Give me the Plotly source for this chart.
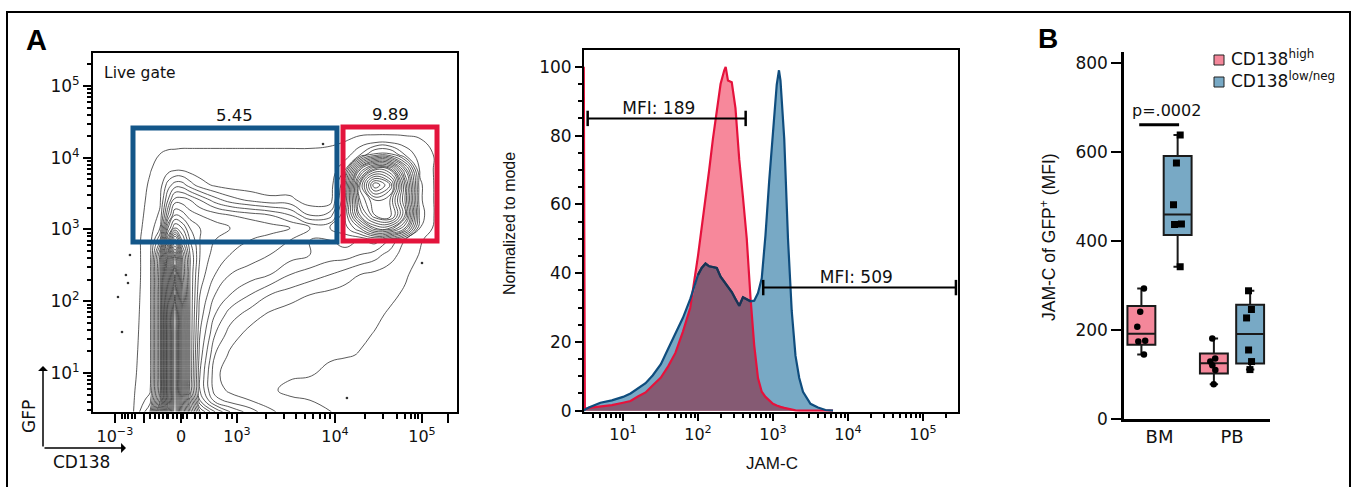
import math
import plotly.graph_objects as go

W, H = 1353, 487
F = "DejaVu Sans, Liberation Sans, sans-serif"
FN = "Liberation Sans Narrow, Liberation Sans, Arial, sans-serif"
FB = "Liberation Sans, Arial, Helvetica, sans-serif"
INK = "#111111"


def px_x(p):
    return p / W


def px_y(p):
    return 1 - p / H


# ---------------- Panel A, left: GFP vs CD138 contour (display units) ----------------
# CD138 display position (biexponential axis: 10^3 -> 3, 10^4 -> 4) and GFP as log10
cd138_cols = [1.602, 1.806, 1.959, 2.112, 2.214, 2.296, 2.367, 2.439, 2.520, 2.622, 2.776, 2.929,
              3.133, 3.337, 3.541, 3.745, 3.949, 4.102, 4.255, 4.408, 4.561, 4.714, 4.867, 5.020, 5.173]
gfp_rows = [0.46, 0.62, 0.76, 0.97, 1.25, 1.53, 1.81, 2.09, 2.37, 2.65, 2.85, 3.02, 3.20, 3.41,
            3.62, 3.83, 4.04, 4.25, 4.46, 4.74]
density_levels = [
    [0, 0, 1.1, 4, 14, 22, 28, 22, 16, 10, 7, 5, 3.5, 2.2, 1.5, 1.2, 1.05, 0.5, 0, 0, 0, 0, 0, 0, 0],
    [0, 0, 1.05, 2.5, 10, 20, 28, 21, 14, 7, 3.5, 2.5, 2, 1.5, 1.2, 1.0, 0.6, 0.3, 0, 0, 0, 0, 0, 0, 0],
    [0, 0.2, 1.0, 1.8, 9, 20, 28, 20, 12, 6, 2.5, 1.8, 1.5, 1.2, 0.7, 0.6, 0.5, 0.2, 0, 0, 0, 0, 0, 0, 0],
    [0, 0.3, 0.95, 1.5, 9, 20, 28, 20, 12, 6, 2.3, 1.4, 1.3, 1.25, 1.15, 1.05, 0.7, 0.4, 0.1, 0, 0, 0, 0, 0, 0],
    [0, 0.3, 0.9, 1.5, 9, 20, 28, 20, 12, 6.5, 3, 1.8, 1.4, 1.3, 1.25, 1.2, 1.15, 1.1, 0.95, 0.6, 0.3, 0, 0, 0, 0],
    [0, 0.3, 0.85, 1.5, 9, 20, 28, 20, 12, 7, 4, 2.5, 1.6, 1.3, 1.25, 1.25, 1.2, 1.2, 1.15, 0.95, 0.6, 0.3, 0, 0, 0],
    [0, 0.3, 0.8, 1.5, 9, 20, 28, 20, 12, 7.5, 5, 3.5, 2.5, 1.8, 1.4, 1.3, 1.3, 1.25, 1.2, 1.15, 0.9, 0.5, 0.1, 0, 0],
    [0, 0.3, 0.75, 1.5, 9, 19, 27, 19, 12, 8, 6, 5, 4, 3, 2.5, 2, 1.7, 1.5, 1.4, 1.3, 1.15, 0.9, 0.5, 0.1, 0],
    [0, 0.3, 0.7, 1.5, 9, 18, 26, 18, 12, 8.5, 7, 6, 5.5, 5, 4, 3.5, 3, 2.5, 2, 1.7, 1.4, 1.1, 0.7, 0.3, 0],
    [0, 0.3, 0.7, 1.5, 8, 17, 24, 17, 12, 9, 7.5, 7, 6.5, 6, 5.5, 5, 4.5, 4.5, 4, 3.5, 2.5, 1.5, 0.95, 0.5, 0],
    [0, 0.3, 0.7, 1.5, 5, 13, 19, 14, 11, 9, 8, 7.5, 7, 6.5, 6, 5, 5, 5.5, 5, 5.5, 4, 2, 1.1, 0.6, 0.1],
    [0, 0.3, 0.65, 1.4, 3, 10, 13, 12, 10, 9, 8.5, 8, 8, 7.5, 7, 6, 6, 6.5, 9, 13, 13, 9, 2, 0.8, 0.2],
    [0, 0.3, 0.6, 1.3, 2.2, 7, 10, 9.5, 8.5, 8, 7.5, 7, 6.5, 6, 5, 3, 3.5, 7, 14, 18, 19, 13, 2.5, 0.9, 0.2],
    [0, 0.3, 0.55, 1.2, 1.8, 5, 7.5, 7.5, 7, 6, 4.5, 3.5, 2.8, 2.3, 2.3, 1.4, 1.4, 6, 16, 19, 18, 12, 2.2, 0.9, 0.2],
    [0, 0.3, 0.5, 1.1, 1.5, 3.5, 4.5, 4.5, 3.5, 2.5, 1.8, 1.5, 1.4, 1.3, 1.3, 1.2, 1.3, 5, 17, 24, 21, 12, 2.2, 0.9, 0.2],
    [0, 0.2, 0.4, 0.95, 1.3, 1.6, 1.9, 1.9, 1.6, 1.4, 1.3, 1.3, 1.25, 1.25, 1.2, 1.2, 1.2, 3, 12, 17, 16, 9, 1.8, 0.9, 0.1],
    [0, 0.1, 0.3, 0.8, 1.02, 1.15, 1.15, 1.15, 1.15, 1.15, 1.15, 1.15, 1.15, 1.15, 1.15, 1.15, 1.2, 1.4, 3, 5.5, 5.5, 3, 1.4, 0.95, 0.1],
    [0, 0, 0.2, 0.4, 0.6, 0.7, 0.75, 0.8, 0.8, 0.8, 0.8, 0.8, 0.8, 0.8, 0.8, 0.8, 0.85, 0.95, 1.15, 1.2, 1.2, 1.15, 1.05, 0.7, 0],
    [0, 0, 0, 0.1, 0.2, 0.3, 0.3, 0.3, 0.3, 0.3, 0.3, 0.3, 0.3, 0.3, 0.3, 0.3, 0.4, 0.5, 0.6, 0.6, 0.6, 0.6, 0.5, 0.3, 0],
    [0] * 25,
]
# single outlying events
event_cd138 = [1.908, 1.867, 1.888, 1.786, 1.827, 4.888, 4.122, 3.878]
event_gfp = [2.645, 2.366, 2.254, 2.059, 1.571, 2.533, 0.652, 4.192]

# gates (display units)
gate_pct = ["5.45", "9.89"]
gate_x0 = [1.939, 4.082]
gate_x1 = [4.020, 5.041]
gate_y0 = [2.826, 2.840]
gate_y1 = [4.415, 4.429]
gate_colors = ["#135689", "#e3143c"]

cd138_tickvals = [1.755, 2.054, 2.43, 3.0, 4.0, 4.888, 5.156]
cd138_ticktext = ["10<sup>−3</sup>", "", "0", "10<sup>3</sup>", "10<sup>4</sup>", "10<sup>5</sup>", ""]
cd138_minor = [1.823, 1.857, 1.888, 1.926, 1.959, 2.112, 2.163, 2.204, 2.245, 2.283, 2.296,
               2.347, 2.385, 2.449, 2.487, 2.571, 2.622, 2.691, 2.806, 2.895, 2.946, 3.301, 3.477,
               3.602, 3.699, 3.778, 3.845, 3.903, 3.954, 4.306, 4.49, 4.63, 4.714, 4.776, 4.816,
               4.85]
gfp_tickvals = [1, 2, 3, 4, 5]
gfp_ticktext = ["10<sup>1</sup>", "10<sup>2</sup>", "10<sup>3</sup>", "10<sup>4</sup>", "10<sup>5</sup>"]
gfp_minor = [k + math.log10(m) for k in range(0, 6) for m in range(2, 10)
             if 0.456 < k + math.log10(m) < 5.46]

# ---------------- Panel A, right: JAM-C histogram ----------------
jam_c = [3.0, 3.1, 3.5, 5, 7.1, 10, 12.6, 15.8, 20, 25, 32, 40, 50, 63, 79, 100, 112, 126, 141,
         158, 178, 200, 224, 234, 251, 282, 316, 355, 398, 447, 501, 562, 631, 708, 794, 891,
         1000, 1122, 1202, 1259, 1413, 1585, 1778, 1995, 2239, 2512, 3162, 3981, 5012, 6310]
mode_high = [100, 0.5, 0.8, 1.2, 1.6, 2.3, 2.8, 4.1, 5.3, 7.4, 9.6, 12.9, 16.8, 23, 30, 45, 53, 61,
             70, 79, 87, 95, 99, 100, 96, 95.5, 88, 73, 62, 50, 33, 19, 9.5, 5.5, 4, 3, 2, 1.5,
             1.2, 1.1, 0.8, 0.5, 0.3, 0.1, 0, 0, 0, 0, 0, 0]
mode_low = [0, 0.3, 0.9, 2.3, 3, 4, 5, 6.4, 8, 10.3, 13.5, 18, 22.5, 27, 32.5, 39.5, 41.5, 42.8,
            42, 41.8, 41.5, 39, 37.5, 37, 36, 34.5, 32.5, 30.5, 33, 32.3, 31.8, 32, 34.2, 38.5,
            51, 67, 82, 94.8, 99, 96, 79, 50, 29, 16, 9.5, 5.5, 2, 0.9, 0.2, 0]
mfi_labels = ["MFI: 189", "MFI: 509"]
mfi_x0 = [3.38, 741]
mfi_x1 = [432, 2.75e5]
mfi_y = [85, 35.8]
mfi_label_x = [30, 12900]
jam_tickvals = [10, 100, 1000, 10000, 100000]
jam_ticktext = ["10<sup>1</sup>", "10<sup>2</sup>", "10<sup>3</sup>", "10<sup>4</sup>", "10<sup>5</sup>"]
jam_minor = [m * 10 ** k for k in range(0, 6) for m in range(2, 10)]

# ---------------- Panel B: box plots ----------------
sites = ["BM", "PB"]
bm_high = [145, 174, 176, 207, 241, 293]
bm_low = [342, 437, 438, 481, 575, 638]
pb_high = [78, 110, 121, 129, 136, 181]
pb_low = [111, 129, 155, 227, 246, 288]
series_names = ["CD138<sup>high</sup>", "CD138<sup>low/neg</sup>"]
series_fill = ["#f4879a", "#78a9c5"]
p_text = "p=.0002"
p_bar_x = [-0.28, 0.27]
p_bar_y = 661


def quantile_np1(vals, p):
    """(n+1)p quantile, as used by the original box plot software."""
    s = sorted(vals)
    n = len(s)
    pos = (n + 1) * p
    lo = int(math.floor(pos))
    frac = pos - lo
    lo = max(1, min(lo, n))
    hi = min(lo + 1, n)
    return s[lo - 1] + frac * (s[hi - 1] - s[lo - 1])


def note(x, y, text, font, xanchor="center", yanchor="middle", ref="paper", **kw):
    xr, yr = (ref, ref) if ref == "paper" else ref
    return dict(xref=xr, yref=yr, x=x, y=y, text=text, showarrow=False, font=font,
                xanchor=xanchor, yanchor=yanchor, **kw)


fig = go.Figure()

# ---- contour panel ----
fig.add_trace(go.Contour(
    x=cd138_cols, y=gfp_rows, z=density_levels,
    contours=dict(start=1, end=30, size=1, coloring="none"),
    line=dict(color="#303030", width=0.8, smoothing=1.3),
    showscale=False, hoverinfo="skip", xaxis="x", yaxis="y"))
fig.add_trace(go.Scatter(x=event_cd138, y=event_gfp, mode="markers",
                         marker=dict(size=2.6, color="#333333"), xaxis="x", yaxis="y",
                         hoverinfo="skip"))

shapes = []
annotations = []
for i in range(2):
    shapes.append(dict(type="rect", xref="x", yref="y", x0=gate_x0[i], x1=gate_x1[i],
                       y0=gate_y0[i], y1=gate_y1[i], line=dict(color=gate_colors[i], width=5),
                       layer="above"))
    annotations.append(note((gate_x0[i] + gate_x1[i]) / 2, gate_y1[i], gate_pct[i],
                            dict(family=F, size=16.5, color=INK), yanchor="bottom",
                            ref=("x", "y"), yshift=1))
annotations.append(note(1.62, 5.18, "Live gate", dict(family=F, size=15.5, color=INK),
                        xanchor="left", ref=("x", "y")))

# ---- histogram panel ----
overlap = [min(a, b) for a, b in zip(mode_high, mode_low)]
fig.add_trace(go.Scatter(x=jam_c, y=mode_low, mode="lines", fill="tozeroy",
                         fillcolor="#78a9c5", line=dict(width=0, color="#78a9c5"),
                         xaxis="x2", yaxis="y2", hoverinfo="skip"))
fig.add_trace(go.Scatter(x=jam_c, y=mode_high, mode="lines", fill="tozeroy",
                         fillcolor="#f7889b", line=dict(width=0, color="#f7889b"),
                         xaxis="x2", yaxis="y2", hoverinfo="skip"))
fig.add_trace(go.Scatter(x=jam_c, y=overlap, mode="lines", fill="tozeroy",
                         fillcolor="#855a73", line=dict(width=0, color="#855a73"),
                         xaxis="x2", yaxis="y2", hoverinfo="skip"))
fig.add_trace(go.Scatter(x=jam_c, y=mode_high, mode="lines",
                         line=dict(width=2.2, color="#e5123c"),
                         xaxis="x2", yaxis="y2", hoverinfo="skip"))
fig.add_trace(go.Scatter(x=jam_c, y=mode_low, mode="lines",
                         line=dict(width=2.2, color="#0f4d7e"),
                         xaxis="x2", yaxis="y2", hoverinfo="skip"))
low_in_high = [b if b <= a and b > 0 else None for a, b in zip(mode_high, mode_low)]
fig.add_trace(go.Scatter(x=jam_c, y=low_in_high, mode="lines", connectgaps=False,
                         line=dict(width=2.2, color="#1b3352"),
                         xaxis="x2", yaxis="y2", hoverinfo="skip"))
for i in range(2):
    fig.add_trace(go.Scatter(x=[mfi_x0[i], mfi_x1[i]], y=[mfi_y[i], mfi_y[i]],
                             mode="lines+markers", line=dict(color="black", width=2),
                             marker=dict(symbol="line-ns", size=11,
                                         line=dict(width=2.5, color="black")),
                             xaxis="x2", yaxis="y2", hoverinfo="skip", cliponaxis=False))
    fig.add_trace(go.Scatter(x=[mfi_label_x[i]], y=[mfi_y[i]], mode="text",
                             text=[mfi_labels[i]], textposition="top center",
                             textfont=dict(family=F, size=17, color=INK),
                             xaxis="x2", yaxis="y2", hoverinfo="skip"))

# ---- box panel ----
box_sets = [(bm_high, pb_high, "circle", 6.5), (bm_low, pb_low, "square", 7)]
for k, (bm_vals, pb_vals, sym, msize) in enumerate(box_sets):
    groups = [bm_vals, pb_vals]
    fig.add_trace(go.Box(
        x=sites, y=groups, name=series_names[k],
        q1=[quantile_np1(g, 0.25) for g in groups],
        median=[quantile_np1(g, 0.5) for g in groups],
        q3=[quantile_np1(g, 0.75) for g in groups],
        lowerfence=[min(g) for g in groups],
        upperfence=[max(g) for g in groups],
        fillcolor=series_fill[k], line=dict(color="#1a1a1a", width=2),
        boxpoints="all", jitter=0.35, pointpos=0, whiskerwidth=0.3,
        marker=dict(color="black", size=msize, symbol=sym),
        xaxis="x3", yaxis="y3", hoverinfo="skip"))

shapes.append(dict(type="line", xref="x3", yref="y3", x0=p_bar_x[0], x1=p_bar_x[1],
                   y0=p_bar_y, y1=p_bar_y, line=dict(color="black", width=3)))
annotations.append(note(0.1, p_bar_y + 5, p_text, dict(family=F, size=16, color=INK),
                        yanchor="bottom", ref=("x3", "y3")))

# legend for panel B
legend_y = [60, 82]
for k in range(2):
    shapes.append(dict(type="rect", xref="paper", yref="paper", x0=px_x(1214), x1=px_x(1224),
                       y0=px_y(legend_y[k] + 5), y1=px_y(legend_y[k] - 5),
                       fillcolor=series_fill[k], line=dict(color="#222222", width=1)))
    annotations.append(note(px_x(1229), px_y(legend_y[k] - 2), series_names[k],
                            dict(family=F, size=17, color=INK), xanchor="left"))

# panel letters and free titles
annotations += [
    note(px_x(24), px_y(40), "<b>A</b>", dict(family=FB, size=29, color="black"),
         xanchor="left"),
    note(px_x(1036), px_y(38), "<b>B</b>", dict(family=FB, size=28, color="black"),
         xanchor="left"),
    note(px_x(510), px_y(224), "Normalized to mode", dict(family=FN, size=16, color=INK),
         textangle=-90),
    note(px_x(772), px_y(463), "JAM-C", dict(family=FN, size=17, color=INK)),
    note(px_x(1048), px_y(237), "JAM-C of GFP<sup>+</sup> (MFI)",
         dict(family=FN, size=17.5, color=INK), textangle=-90),
    note(px_x(29), px_y(417), "GFP", dict(family=F, size=17, color=INK), textangle=-90),
    note(px_x(81), px_y(462), "CD138", dict(family=F, size=17, color=INK)),
    dict(xref="paper", yref="paper", x=px_x(43), y=px_y(366), ax=0, ay=82, axref="pixel",
         ayref="pixel", text="", showarrow=True, arrowhead=1, arrowsize=1.1, arrowwidth=1.5,
         arrowcolor="black"),
    dict(xref="paper", yref="paper", x=px_x(126), y=px_y(448), ax=-83, ay=0, axref="pixel",
         ayref="pixel", text="", showarrow=True, arrowhead=1, arrowsize=1.1, arrowwidth=1.5,
         arrowcolor="black"),
]

# outer frame (left, top, right sides; open at the bottom edge of the picture)
shapes.append(dict(type="path", xref="paper", yref="paper",
                   path=f"M {px_x(7)},0 L {px_x(7)},{px_y(12)} L {px_x(1350)},{px_y(12)} "
                        f"L {px_x(1350)},0",
                   line=dict(color="black", width=2)))

frame = dict(showline=True, linecolor="black", linewidth=2, mirror=True, showgrid=False,
             zeroline=False, ticks="outside", tickcolor="black", tickwidth=2, automargin=False)

fig.update_layout(
    width=W, height=H, margin=dict(l=0, r=0, t=0, b=0, pad=0, autoexpand=False),
    autosize=False,
    paper_bgcolor="white", plot_bgcolor="white", showlegend=False,
    boxmode="group", boxgap=0, boxgroupgap=0.23,
    shapes=shapes, annotations=annotations,
    xaxis=dict(domain=[px_x(93), px_x(457)], range=[1.531, 5.245], anchor="y",
               tickvals=cd138_tickvals, ticktext=cd138_ticktext, ticklen=9,
               minor=dict(tickvals=cd138_minor, ticks="outside", ticklen=5, tickwidth=1.5,
                          tickcolor="black", showgrid=False),
               tickfont=dict(family=F, size=16, color=INK), **frame),
    yaxis=dict(domain=[px_y(412), px_y(53)], range=[0.456, 5.46], anchor="x",
               tickvals=gfp_tickvals, ticktext=gfp_ticktext, ticklen=8,
               minor=dict(tickvals=gfp_minor, ticks="outside", ticklen=4, tickwidth=1.5,
                          tickcolor="black", showgrid=False),
               tickfont=dict(family=F, size=17, color=INK), **frame),
    xaxis2=dict(domain=[px_x(584), px_x(958)], type="log", range=[0.48, 5.467], anchor="y2",
                tickvals=jam_tickvals, ticktext=jam_ticktext, ticklen=7,
                minor=dict(tickvals=jam_minor, ticks="outside", ticklen=4, tickwidth=1.5,
                           tickcolor="black", showgrid=False),
                tickfont=dict(family=F, size=16, color=INK), **frame),
    yaxis2=dict(domain=[px_y(411.7), px_y(50)], range=[-0.3, 104.9], anchor="x2",
                tickvals=[0, 20, 40, 60, 80, 100], ticklen=7,
                minor=dict(dtick=5, ticks="outside", ticklen=4, tickwidth=1.5,
                           tickcolor="black", showgrid=False),
                tickfont=dict(family=F, size=17, color=INK), **frame),
    xaxis3=dict(domain=[px_x(1124), px_x(1270)], range=[-0.49, 1.524], anchor="y3",
                type="category", showline=True, linecolor="black", linewidth=2.5,
                ticks="", showgrid=False, zeroline=False, automargin=False,
                tickfont=dict(family=F, size=18, color=INK)),
    yaxis3=dict(domain=[px_y(419), px_y(51.7)], range=[0, 825], anchor="x3",
                tickvals=[0, 200, 400, 600, 800], showline=True, linecolor="black",
                linewidth=2.5, ticks="outside", ticklen=10, tickwidth=2, tickcolor="black",
                showgrid=False, zeroline=False, automargin=False,
                tickfont=dict(family=F, size=17, color=INK)),
)

fig.write_html("out.html", config={"displayModeBar": False},
               post_script="document.body.style.margin='0';")
